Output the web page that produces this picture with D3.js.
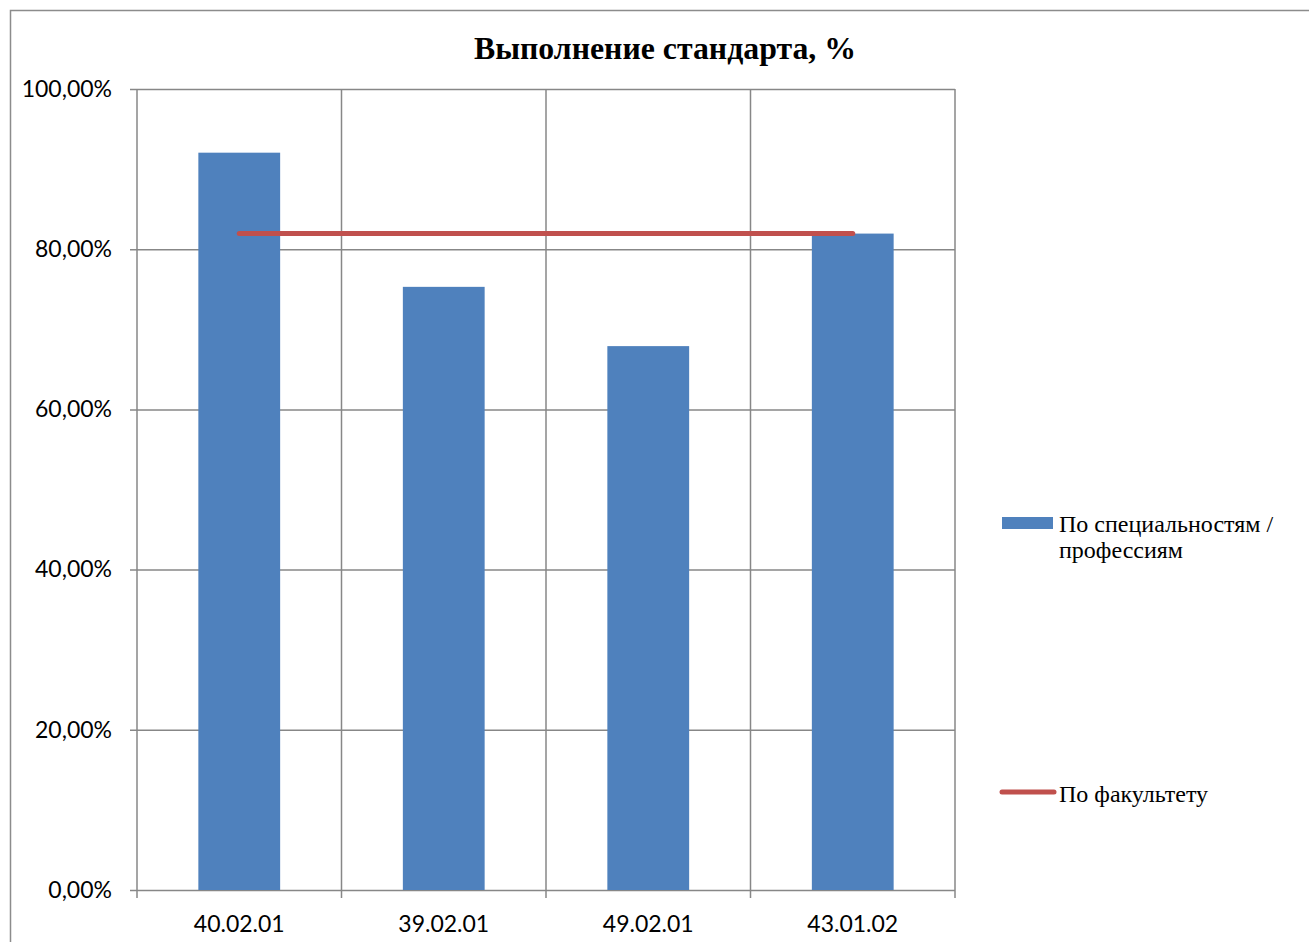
<!DOCTYPE html>
<html>
<head>
<meta charset="utf-8">
<script src="https://cdn.jsdelivr.net/npm/d3@7"></script>
<style>
  body { margin: 0; background: #fff; }
  svg { display: block; }
</style>
</head>
<body>
<svg class="chart"></svg>
<script>
var categories = ["40.02.01", "39.02.01", "49.02.01", "43.01.02"];
var specValues = [0.9205, 0.753, 0.679, 0.8195];
var facultyValues = [0.8195, 0.8195, 0.8195, 0.8195];
var yTicks = [0, 0.2, 0.4, 0.6, 0.8, 1.0];
var seriesNames = ["По специальностям /", "профессиям", "По факультету"];

var W = 1309, H = 942;
var plot = {left: 137, right: 955, top: 89, bottom: 890};
var axisFont = "Lato, 'Open Sans', sans-serif";
var serifFont = "'Liberation Serif', 'Times New Roman', serif";

var svg = d3.select(".chart").attr("width", W).attr("height", H);

// outer chart frame (runs off the right/bottom edge)
svg.append("rect")
    .attr("x", 10.5).attr("y", 10.5)
    .attr("width", W + 20).attr("height", H + 20)
    .attr("fill", "none").attr("stroke", "#8c8c8c").attr("stroke-width", 1.5);

var xScale = d3.scaleBand()
    .domain(categories)
    .range([plot.left, plot.right])
    .paddingInner(0.6).paddingOuter(0.3);

var xEdges = d3.scaleLinear()
    .domain([0, categories.length])
    .range([plot.left, plot.right]);

var yScale = d3.scaleLinear()
    .domain([0, 1])
    .range([plot.bottom, plot.top]);

var fmt = function(d) { return d3.format(".2f")(d * 100).replace(".", ",") + "%"; };

// horizontal grid + y axis
var yAxis = d3.axisLeft(yScale)
    .tickValues(yTicks)
    .tickSize(-(plot.right - plot.left))
    .tickPadding(25)
    .tickFormat(fmt);

var gy = svg.append("g").attr("transform", "translate(" + plot.left + ",0)").call(yAxis);
gy.select(".domain").remove();
gy.selectAll(".tick line").attr("stroke", "#878787").attr("stroke-width", 1.5).attr("x1", -7);
gy.selectAll(".tick text")
    .attr("font-family", axisFont)
    .attr("font-size", 23).attr("fill", "#000");

// vertical grid at category boundaries
svg.append("g").selectAll("line")
    .data(d3.range(categories.length + 1))
    .enter().append("line")
    .attr("x1", xEdges).attr("x2", xEdges)
    .attr("y1", plot.top).attr("y2", plot.bottom + 8)
    .attr("stroke", "#878787").attr("stroke-width", 1.5);

// x axis labels
var xAxis = d3.axisBottom(xScale).tickSize(0).tickPadding(26);
var gx = svg.append("g").attr("transform", "translate(0," + plot.bottom + ")").call(xAxis);
gx.select(".domain").remove();
gx.selectAll(".tick text")
    .attr("font-family", axisFont)
    .attr("font-size", 23).attr("fill", "#000");

// bars
svg.append("g").selectAll("rect")
    .data(specValues)
    .enter().append("rect")
    .attr("x", function(d, i) { return xScale(categories[i]); })
    .attr("y", function(d) { return yScale(d); })
    .attr("width", xScale.bandwidth())
    .attr("height", function(d) { return plot.bottom - yScale(d); })
    .attr("fill", "#4f81bd");

// faculty line
var line = d3.line()
    .x(function(d, i) { return xScale(categories[i]) + xScale.bandwidth() / 2; })
    .y(function(d) { return yScale(d); });

svg.append("path")
    .datum(facultyValues)
    .attr("d", line)
    .attr("fill", "none")
    .attr("stroke", "#c0504d")
    .attr("stroke-width", 5)
    .attr("stroke-linecap", "round");

// title
svg.append("text")
    .attr("x", 665).attr("y", 59)
    .attr("text-anchor", "middle")
    .attr("font-family", serifFont)
    .attr("font-weight", "bold")
    .attr("font-size", 31.8)
    .text("Выполнение стандарта, %");

// legend
var lg = svg.append("g")
    .attr("font-family", serifFont)
    .attr("font-size", 24);

lg.append("rect").attr("x", 1002).attr("y", 517).attr("width", 51).attr("height", 12).attr("fill", "#4f81bd");
lg.append("text").attr("x", 1059).attr("y", 532).text(seriesNames[0]);
lg.append("text").attr("x", 1059).attr("y", 558).text(seriesNames[1]);

lg.append("line").attr("x1", 1002).attr("x2", 1054).attr("y1", 792).attr("y2", 792)
    .attr("stroke", "#c0504d").attr("stroke-width", 5).attr("stroke-linecap", "round");
lg.append("text").attr("x", 1059).attr("y", 802).text(seriesNames[2]);
</script>
</body>
</html>
